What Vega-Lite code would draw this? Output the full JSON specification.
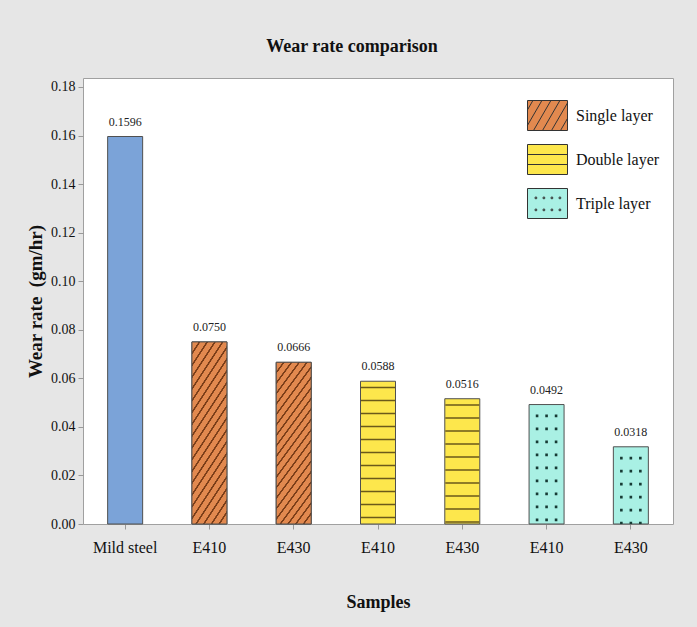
{
  "$schema": "https://vega.github.io/schema/vega-lite/v6.json",
  "autosize": "none",
  "width": 590,
  "height": 446,
  "padding": {"left": 83, "top": 78, "right": 24, "bottom": 103},
  "background": "#e6e6e6",
  "title": {"text": "Wear rate comparison", "font": "Liberation Serif", "fontSize": 18, "fontWeight": "bold", "color": "#111111", "offset": 22, "dx": -26},
  "config": {
    "view": {"stroke": "#a0a0a0", "fill": "white"}
  },
  "data": {"values": [
    {"Bar": "Mild steel|Mild steel", "Sample": "Mild steel", "Layer": "Mild steel", "value": 0.1596},
    {"Bar": "E410|Single layer", "Sample": "E410", "Layer": "Single layer", "value": 0.0750},
    {"Bar": "E430|Single layer", "Sample": "E430", "Layer": "Single layer", "value": 0.0666},
    {"Bar": "E410|Double layer", "Sample": "E410", "Layer": "Double layer", "value": 0.0588},
    {"Bar": "E430|Double layer", "Sample": "E430", "Layer": "Double layer", "value": 0.0516},
    {"Bar": "E410|Triple layer", "Sample": "E410", "Layer": "Triple layer", "value": 0.0492},
    {"Bar": "E430|Triple layer", "Sample": "E430", "Layer": "Triple layer", "value": 0.0318}
  ]},
  "encoding": {
    "x": {"field": "Bar", "type": "nominal", "sort": null,
      "scale": {"paddingInner": 0.585, "paddingOuter": 0.2925},
      "axis": {"title": "Samples", "titleFont": "Liberation Serif", "titleFontSize": 18, "titleFontWeight": "bold", "titleColor": "#111111", "titlePadding": 38,
        "labelFont": "Liberation Serif", "labelFontSize": 16, "labelColor": "#111111", "labelAngle": 0, "labelPadding": 10,
        "labelExpr": "split(datum.label, '|')[0]", "tickSize": 5, "tickColor": "#999999", "domain": false}},
    "y": {"field": "value", "type": "quantitative",
      "scale": {"domain": [0, 0.1837], "nice": false, "zero": true},
      "axis": {"title": "Wear rate \u00a0(gm/hr)", "titleFont": "Liberation Serif", "titleFontSize": 19, "titleFontWeight": "bold", "titleColor": "#111111", "titlePadding": 5,
        "values": [0, 0.02, 0.04, 0.06, 0.08, 0.1, 0.12, 0.14, 0.16, 0.18], "format": ".2f",
        "labelFont": "Liberation Serif", "labelFontSize": 14, "labelColor": "#111111", "labelPadding": 3,
        "tickSize": 5, "tickColor": "#999999", "domain": false, "grid": false}}
  },
  "layer": [
    {
      "mark": {"type": "bar", "width": 35, "stroke": "#505050", "strokeWidth": 1},
      "encoding": {
        "fill": {"field": "Layer", "type": "nominal",
          "scale": {"domain": ["Mild steel", "Single layer", "Double layer", "Triple layer"], "range": ["#7ba3d8", "#e2894f", "#fde74c", "#a9f0e4"]},
          "legend": {"values": ["Single layer", "Double layer", "Triple layer"], "title": null, "orient": "none", "legendX": 444, "legendY": 17,
            "symbolSize": 1600, "labelFont": "Liberation Serif", "labelFontSize": 16, "labelColor": "#111111", "labelOffset": 8, "rowPadding": 6, "padding": 0,
            "symbolStrokeWidth": 1, "symbolStrokeColor": "#333333", "symbolOpacity": 1,
            "encode": {"symbols": {"update": {
              "shape": {"signal": "datum.value === 'Single layer' ? 'M-1,-0.75H1V0.75H-1Z M-1,-0.284L-0.73,-0.75 M-1,0.491L-0.28,-0.75 M-0.7,0.75L0.17,-0.75 M-0.25,0.75L0.62,-0.75 M0.2,0.75L1,-0.629 M0.65,0.75L1,0.147' : datum.value === 'Double layer' ? 'M-1,-0.75H1V0.75H-1Z M-1,-0.25H1 M-1,0.25H1' : 'M-1,-0.75H1V0.75H-1Z M-0.62,-0.32h0.08v0.08h-0.08Z M-0.22,-0.32h0.08v0.08h-0.08Z M0.18,-0.32h0.08v0.08h-0.08Z M0.58,-0.32h0.08v0.08h-0.08Z M-0.62,0.28h0.08v0.08h-0.08Z M-0.22,0.28h0.08v0.08h-0.08Z M0.18,0.28h0.08v0.08h-0.08Z M0.58,0.28h0.08v0.08h-0.08Z'"},
              "stroke": {"value": "#333333"},
              "strokeWidth": {"value": 1}
            }}}}}
      }
    },
    {
      "transform": [{"filter": "datum.Layer === 'Single layer'"}],
      "mark": {"type": "bar", "width": 35, "stroke": "#505050", "strokeWidth": 1,
        "fill": {"gradient": "linear", "x1": 0, "y1": 0, "x2": 0.35, "y2": 1.191, "stops": [
          {"offset": 0, "color": "#e2894f"},
          {"offset": 0.042, "color": "#e2894f"}, {"offset": 0.045, "color": "#7a3d18"}, {"offset": 0.054, "color": "#7a3d18"}, {"offset": 0.057, "color": "#e2894f"},
          {"offset": 0.092, "color": "#e2894f"}, {"offset": 0.095, "color": "#7a3d18"}, {"offset": 0.104, "color": "#7a3d18"}, {"offset": 0.107, "color": "#e2894f"},
          {"offset": 0.142, "color": "#e2894f"}, {"offset": 0.145, "color": "#7a3d18"}, {"offset": 0.154, "color": "#7a3d18"}, {"offset": 0.157, "color": "#e2894f"},
          {"offset": 0.192, "color": "#e2894f"}, {"offset": 0.195, "color": "#7a3d18"}, {"offset": 0.204, "color": "#7a3d18"}, {"offset": 0.207, "color": "#e2894f"},
          {"offset": 0.242, "color": "#e2894f"}, {"offset": 0.245, "color": "#7a3d18"}, {"offset": 0.254, "color": "#7a3d18"}, {"offset": 0.257, "color": "#e2894f"},
          {"offset": 0.292, "color": "#e2894f"}, {"offset": 0.295, "color": "#7a3d18"}, {"offset": 0.304, "color": "#7a3d18"}, {"offset": 0.307, "color": "#e2894f"},
          {"offset": 0.342, "color": "#e2894f"}, {"offset": 0.345, "color": "#7a3d18"}, {"offset": 0.354, "color": "#7a3d18"}, {"offset": 0.357, "color": "#e2894f"},
          {"offset": 0.392, "color": "#e2894f"}, {"offset": 0.395, "color": "#7a3d18"}, {"offset": 0.404, "color": "#7a3d18"}, {"offset": 0.407, "color": "#e2894f"},
          {"offset": 0.442, "color": "#e2894f"}, {"offset": 0.445, "color": "#7a3d18"}, {"offset": 0.454, "color": "#7a3d18"}, {"offset": 0.457, "color": "#e2894f"},
          {"offset": 0.492, "color": "#e2894f"}, {"offset": 0.495, "color": "#7a3d18"}, {"offset": 0.504, "color": "#7a3d18"}, {"offset": 0.507, "color": "#e2894f"},
          {"offset": 0.542, "color": "#e2894f"}, {"offset": 0.545, "color": "#7a3d18"}, {"offset": 0.554, "color": "#7a3d18"}, {"offset": 0.557, "color": "#e2894f"},
          {"offset": 0.592, "color": "#e2894f"}, {"offset": 0.595, "color": "#7a3d18"}, {"offset": 0.604, "color": "#7a3d18"}, {"offset": 0.607, "color": "#e2894f"},
          {"offset": 0.642, "color": "#e2894f"}, {"offset": 0.645, "color": "#7a3d18"}, {"offset": 0.654, "color": "#7a3d18"}, {"offset": 0.657, "color": "#e2894f"},
          {"offset": 0.692, "color": "#e2894f"}, {"offset": 0.695, "color": "#7a3d18"}, {"offset": 0.704, "color": "#7a3d18"}, {"offset": 0.707, "color": "#e2894f"},
          {"offset": 0.742, "color": "#e2894f"}, {"offset": 0.745, "color": "#7a3d18"}, {"offset": 0.754, "color": "#7a3d18"}, {"offset": 0.757, "color": "#e2894f"},
          {"offset": 0.792, "color": "#e2894f"}, {"offset": 0.795, "color": "#7a3d18"}, {"offset": 0.804, "color": "#7a3d18"}, {"offset": 0.807, "color": "#e2894f"},
          {"offset": 0.842, "color": "#e2894f"}, {"offset": 0.845, "color": "#7a3d18"}, {"offset": 0.854, "color": "#7a3d18"}, {"offset": 0.857, "color": "#e2894f"},
          {"offset": 0.892, "color": "#e2894f"}, {"offset": 0.895, "color": "#7a3d18"}, {"offset": 0.904, "color": "#7a3d18"}, {"offset": 0.907, "color": "#e2894f"},
          {"offset": 0.942, "color": "#e2894f"}, {"offset": 0.945, "color": "#7a3d18"}, {"offset": 0.954, "color": "#7a3d18"}, {"offset": 0.957, "color": "#e2894f"},
          {"offset": 1, "color": "#e2894f"}
        ]}}
    },
    {
      "transform": [{"filter": "datum.Layer === 'Double layer'"}],
      "mark": {"type": "rule", "strokeWidth": 34, "strokeCap": "butt", "stroke": "#6b5a1a", "strokeDash": [1.6, 11.4], "strokeDashOffset": 7.5},
      "encoding": {"y2": {"datum": 0}}
    },
    {
      "transform": [{"filter": "datum.Layer === 'Triple layer'"}],
      "mark": {"type": "rule", "strokeWidth": 2.6, "strokeCap": "butt", "stroke": "#173a34", "strokeDash": [2.6, 10.4], "strokeDashOffset": 3, "xOffset": -9.5},
      "encoding": {"y2": {"datum": 0}}
    },
    {
      "transform": [{"filter": "datum.Layer === 'Triple layer'"}],
      "mark": {"type": "rule", "strokeWidth": 2.6, "strokeCap": "butt", "stroke": "#173a34", "strokeDash": [2.6, 10.4], "strokeDashOffset": 3, "xOffset": 0},
      "encoding": {"y2": {"datum": 0}}
    },
    {
      "transform": [{"filter": "datum.Layer === 'Triple layer'"}],
      "mark": {"type": "rule", "strokeWidth": 2.6, "strokeCap": "butt", "stroke": "#173a34", "strokeDash": [2.6, 10.4], "strokeDashOffset": 3, "xOffset": 9.5},
      "encoding": {"y2": {"datum": 0}}
    },
    {
      "mark": {"type": "text", "baseline": "bottom", "dy": -8, "font": "Liberation Serif", "fontSize": 12, "color": "#222222"},
      "encoding": {"text": {"field": "value", "type": "quantitative", "format": ".4f"}}
    }
  ]
}
